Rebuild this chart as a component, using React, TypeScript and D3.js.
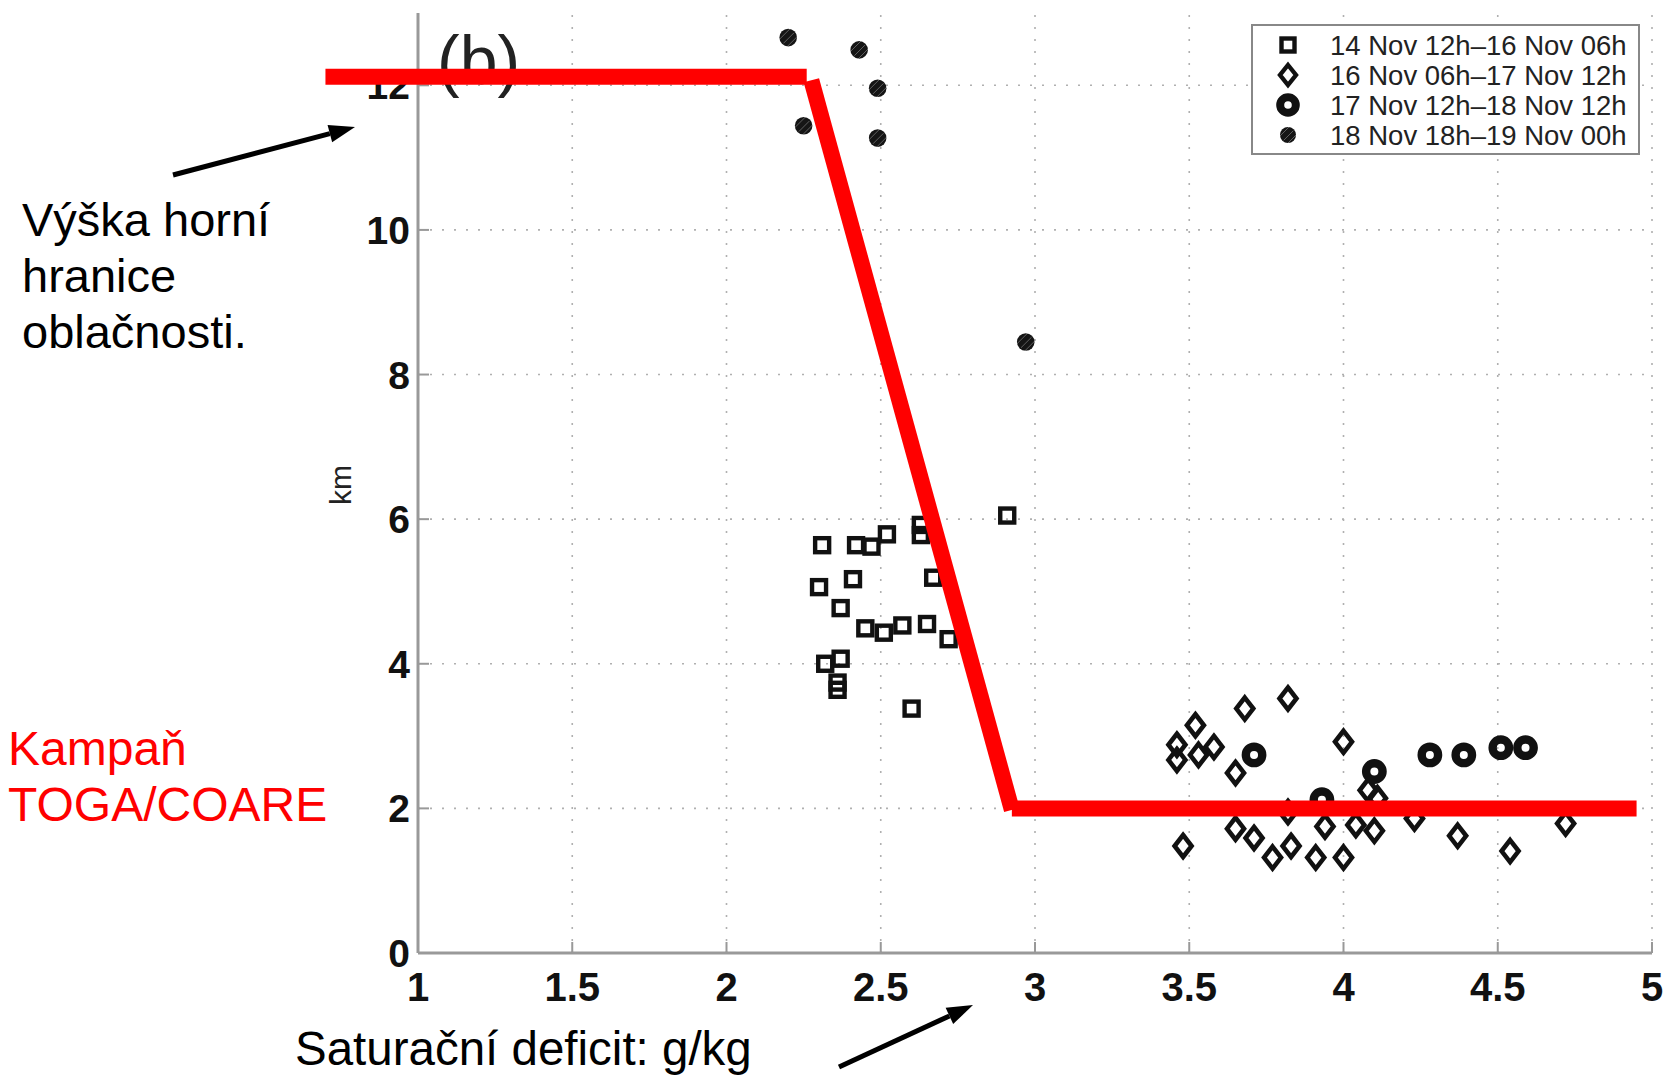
import React, { useEffect, useRef } from 'react';
import * as d3 from 'd3';

// 14 Nov 12h–16 Nov 06h (squares)
const squarePts: [number, number][] = [
  [2.31, 5.64], [2.42, 5.64], [2.47, 5.62], [2.52, 5.79], [2.63, 5.92], [2.63, 5.78],
  [2.41, 5.17], [2.30, 5.06], [2.67, 5.19], [2.37, 4.77], [2.45, 4.49], [2.51, 4.43],
  [2.57, 4.53], [2.65, 4.55], [2.72, 4.34], [2.32, 4.00], [2.37, 4.07], [2.36, 3.74],
  [2.36, 3.64], [2.60, 3.38], [2.91, 6.05]
];
// 16 Nov 06h–17 Nov 12h (diamonds)
const diamondPts: [number, number][] = [
  [3.46, 2.88], [3.52, 3.15], [3.68, 3.38], [3.82, 3.52], [3.46, 2.67], [3.53, 2.74],
  [3.58, 2.85], [3.65, 2.49], [4.00, 2.92], [4.08, 2.25], [4.11, 2.14], [3.82, 1.95],
  [3.65, 1.72], [3.71, 1.59], [3.48, 1.48], [3.77, 1.32], [3.83, 1.48], [3.91, 1.32],
  [3.94, 1.75], [4.00, 1.32], [4.04, 1.77], [4.10, 1.69], [4.23, 1.86], [4.37, 1.62],
  [4.54, 1.41], [4.72, 1.79]
];
// 17 Nov 12h–18 Nov 12h (circles)
const circlePts: [number, number][] = [
  [3.71, 2.74], [3.93, 2.12], [4.10, 2.51], [4.28, 2.74], [4.39, 2.74], [4.51, 2.84], [4.59, 2.84]
];
// 18 Nov 18h–19 Nov 00h (stars)
const starPts: [number, number][] = [
  [2.20, 12.66], [2.43, 12.49], [2.49, 11.96], [2.25, 11.44], [2.49, 11.27], [2.97, 8.45]
];
// red TOGA/COARE line
const redTop: [number, number][] = [[0.70, 12.12], [2.26, 12.12]];
const redSlope: [number, number][] = [[2.275, 12.07], [2.925, 1.98]];
const redLow: [number, number][] = [[2.925, 2.0], [4.95, 2.0]];

const xTicks = [1, 1.5, 2, 2.5, 3, 3.5, 4, 4.5, 5];
const yTicks = [0, 2, 4, 6, 8, 10, 12];
const legendLabels = [
  '14 Nov 12h\u201316 Nov 06h',
  '16 Nov 06h\u201317 Nov 12h',
  '17 Nov 12h\u201318 Nov 12h',
  '18 Nov 18h\u201319 Nov 00h'
];

const FONT = 'Liberation Sans, Arial, sans-serif';

function App() {
  const ref = useRef<SVGSVGElement>(null);

  useEffect(() => {
    const svg = d3.select(ref.current);
    svg.selectAll('*').remove();

    const xScale = d3.scaleLinear().domain([1, 5]).range([418, 1652]);
    const yScale = d3.scaleLinear().domain([0, 13]).range([953, 13]);

    // grid (dotted)
    const grid = svg.append('g').attr('stroke', '#b0b0b0').attr('stroke-width', 1.6).attr('stroke-dasharray', '2,10');
    grid.selectAll('line.vx').data(xTicks.slice(1)).enter().append('line')
      .attr('x1', d => xScale(d)).attr('x2', d => xScale(d))
      .attr('y1', yScale(0)).attr('y2', yScale(13));
    grid.selectAll('line.hy').data(yTicks.slice(1)).enter().append('line')
      .attr('x1', xScale(1)).attr('x2', xScale(5))
      .attr('y1', d => yScale(d)).attr('y2', d => yScale(d));

    // axes
    const ax = svg.append('g').attr('stroke', '#999').attr('stroke-width', 3);
    ax.append('line').attr('x1', xScale(1)).attr('x2', xScale(1)).attr('y1', yScale(0)).attr('y2', yScale(13));
    ax.append('line').attr('x1', xScale(1)).attr('x2', xScale(5)).attr('y1', yScale(0)).attr('y2', yScale(0));
    ax.selectAll('line.tx').data(xTicks).enter().append('line')
      .attr('stroke-width', 2)
      .attr('x1', d => xScale(d)).attr('x2', d => xScale(d))
      .attr('y1', yScale(0)).attr('y2', yScale(0) - 11);
    ax.selectAll('line.ty').data(yTicks).enter().append('line')
      .attr('stroke-width', 2)
      .attr('x1', xScale(1)).attr('x2', xScale(1) + 11)
      .attr('y1', d => yScale(d)).attr('y2', d => yScale(d));

    // tick labels
    svg.append('g').selectAll('text').data(xTicks).enter().append('text')
      .attr('x', d => xScale(d)).attr('y', 1001)
      .attr('text-anchor', 'middle')
      .attr('font-family', FONT).attr('font-weight', 'bold').attr('font-size', 40).attr('fill', '#111')
      .text(d => String(d));
    svg.append('g').selectAll('text').data(yTicks).enter().append('text')
      .attr('x', 410).attr('y', d => yScale(d)).attr('dy', '0.36em')
      .attr('text-anchor', 'end')
      .attr('font-family', FONT).attr('font-weight', 'bold').attr('font-size', 39).attr('fill', '#111')
      .text(d => String(d));

    // y label
    svg.append('text')
      .attr('transform', 'translate(351,485) rotate(-90)')
      .attr('text-anchor', 'middle')
      .attr('font-family', FONT).attr('font-size', 30).attr('fill', '#222')
      .text('km');

    // panel letter
    svg.append('text')
      .attr('x', 437).attr('y', 84)
      .attr('font-family', FONT).attr('font-size', 68).attr('fill', '#222')
      .text('(b)');

    // markers
    const sq = 14;
    svg.append('g').selectAll('rect').data(squarePts).enter().append('rect')
      .attr('x', d => xScale(d[0]) - sq / 2).attr('y', d => yScale(d[1]) - sq / 2)
      .attr('width', sq).attr('height', sq)
      .attr('fill', 'none').attr('stroke', '#111').attr('stroke-width', 4.4);

    const diamond = (cx: number, cy: number, w: number, h: number) =>
      `M${cx},${cy - h}L${cx + w},${cy}L${cx},${cy + h}L${cx - w},${cy}Z`;
    svg.append('g').selectAll('path').data(diamondPts).enter().append('path')
      .attr('d', d => diamond(xScale(d[0]), yScale(d[1]), 8.5, 11))
      .attr('fill', 'none').attr('stroke', '#111').attr('stroke-width', 4.6)
      .attr('stroke-linejoin', 'miter');

    svg.append('g').selectAll('circle').data(circlePts).enter().append('circle')
      .attr('cx', d => xScale(d[0])).attr('cy', d => yScale(d[1])).attr('r', 8.2)
      .attr('fill', 'none').attr('stroke', '#111').attr('stroke-width', 8.4);

    const drawStar = (g: any, cx: number, cy: number, r: number) => {
      g.append('circle').attr('cx', cx).attr('cy', cy).attr('r', r).attr('fill', '#151515');
      [-3.5, 0.5, 4].forEach(o => {
        g.append('line')
          .attr('x1', cx - r * 0.6 + o).attr('y1', cy + r * 0.6 + o)
          .attr('x2', cx + r * 0.6 + o).attr('y2', cy - r * 0.6 + o)
          .attr('stroke', '#fff').attr('stroke-width', 0.8).attr('opacity', 0.4);
      });
    };
    const starG = svg.append('g');
    starPts.forEach(d => drawStar(starG, xScale(d[0]), yScale(d[1]), 8.8));

    // red line
    const line = d3.line<[number, number]>().x(d => xScale(d[0])).y(d => yScale(d[1]));
    [redTop, redSlope, redLow].forEach(seg => {
      svg.append('path').attr('d', line(seg))
        .attr('fill', 'none').attr('stroke', '#ff0000').attr('stroke-width', 16).attr('stroke-linecap', 'butt');
    });

    // legend
    const lg = svg.append('g');
    lg.append('rect').attr('x', 1252).attr('y', 25).attr('width', 387).attr('height', 129)
      .attr('fill', '#fff').attr('stroke', '#888').attr('stroke-width', 2);
    const rowY = (i: number) => 45 + i * 30;
    lg.append('rect').attr('x', 1288 - 6.5).attr('y', rowY(0) - 6.5).attr('width', 13).attr('height', 13)
      .attr('fill', 'none').attr('stroke', '#111').attr('stroke-width', 4.4);
    lg.append('path').attr('d', diamond(1288, rowY(1), 8, 10))
      .attr('fill', 'none').attr('stroke', '#111').attr('stroke-width', 4.4);
    lg.append('circle').attr('cx', 1288).attr('cy', rowY(2)).attr('r', 7.8)
      .attr('fill', 'none').attr('stroke', '#111').attr('stroke-width', 8);
    drawStar(lg, 1288, rowY(3), 8);
    lg.selectAll('text.l').data(legendLabels).enter().append('text')
      .attr('x', 1330).attr('y', (d, i) => rowY(i)).attr('dy', '0.36em')
      .attr('font-family', FONT).attr('font-size', 27.5).attr('fill', '#222')
      .text(d => d);

    // annotations
    const ann = svg.append('g').attr('font-family', FONT).attr('font-size', 47);
    ['Výška horní', 'hranice', 'oblačnosti.'].forEach((t, i) => {
      ann.append('text').attr('x', 22).attr('y', 236 + i * 56).attr('fill', '#000').text(t);
    });
    ['Kampaň', 'TOGA/COARE'].forEach((t, i) => {
      ann.append('text').attr('x', 8).attr('y', 765 + i * 56).attr('font-size', 48).attr('fill', '#ff0000').text(t);
    });
    ann.append('text').attr('x', 295).attr('y', 1065).attr('font-size', 47.5).attr('fill', '#000')
      .text('Saturační deficit: g/kg');

    const arrow = (x1: number, y1: number, x2: number, y2: number) => {
      const a = Math.atan2(y2 - y1, x2 - x1);
      const len = 26, hw = 9;
      const bx = x2 - len * Math.cos(a), by = y2 - len * Math.sin(a);
      svg.append('line').attr('x1', x1).attr('y1', y1).attr('x2', bx).attr('y2', by)
        .attr('stroke', '#000').attr('stroke-width', 5);
      svg.append('path')
        .attr('d', `M${x2},${y2}L${bx + hw * Math.sin(a)},${by - hw * Math.cos(a)}L${bx - hw * Math.sin(a)},${by + hw * Math.cos(a)}Z`)
        .attr('fill', '#000');
    };
    arrow(173, 175, 355, 127);
    arrow(839, 1067, 973, 1005);
  }, []);

  return (
    <svg ref={ref} width={1670} height={1077}
      style={{ position: 'absolute', left: 0, top: 0, display: 'block', background: '#fff' }} />
  );
}

export default App;
